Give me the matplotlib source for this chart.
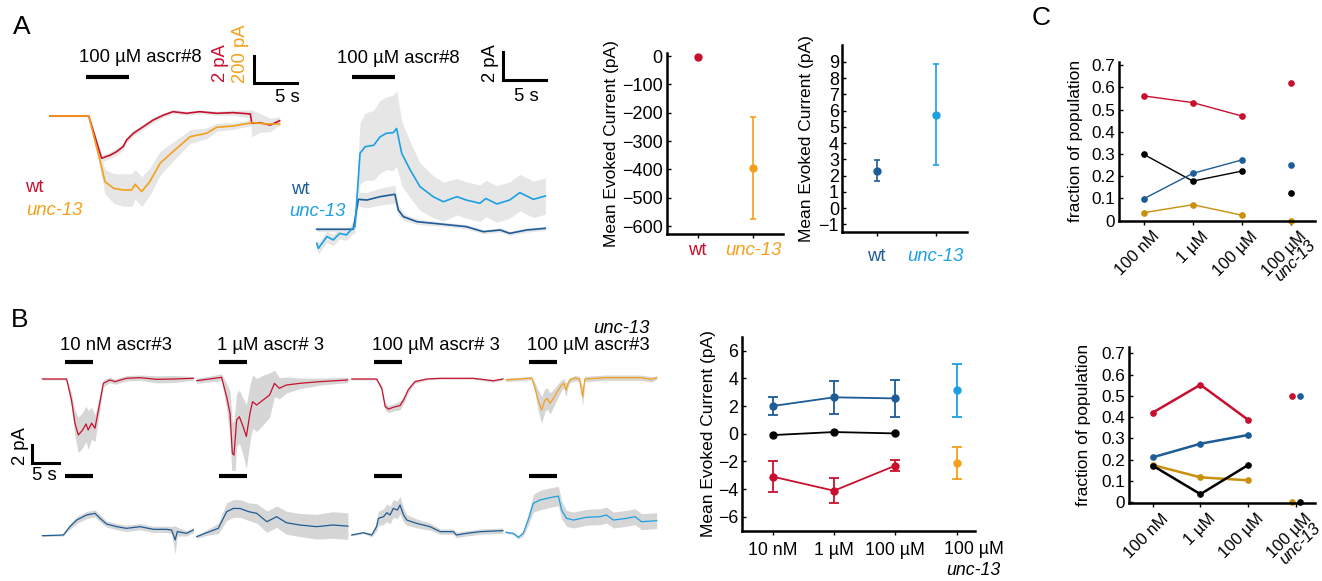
import matplotlib.pyplot as plt
import numpy as np

plt.rcParams['font.family'] = ['Liberation Sans', 'DejaVu Sans']

RED = '#c8102e'
ORANGE = '#f5a01a'
DBLUE = '#1d5c96'
LBLUE = '#1ca0e3'
GOLD = '#c8900c'
BAND_A = '#e6e6e6'
BAND_B = '#d6d6d6'

# ---- A: ascr#8 traces (time in s, current in pA) ----
a1_wt_t = [0, 4.5, 6.0, 7.0, 7.75, 8.5, 8.9, 9.7, 10.85, 12.0, 13.2, 14.3, 15.9, 17.4, 19.4, 21.3, 23.3, 23.45, 24.4, 25.6, 26.7]
a1_wt = [0, 0, -3.13, -2.9, -2.64, -2.27, -1.78, -1.28, -0.79, -0.3, 0.07, 0.32, 0.2, 0.32, 0.2, 0.25, 0.15, -0.54, -0.5, -0.67, -0.35]
a1_wt_sem = [0.05, 0.05, 0.25, 0.25, 0.25, 0.25, 0.2, 0.2, 0.2, 0.2, 0.15, 0.15, 0.15, 0.15, 0.15, 0.2, 0.3, 1.0, 0.7, 0.5, 0.3]
a1_unc_t = [0, 4.5, 5.8, 6.4, 7.4, 8.5, 9.5, 9.9, 10.66, 11.6, 12.8, 14.3, 16.3, 18.2, 19.4, 21.3, 23.6, 25.2, 26.7]
a1_unc = [0, 0, -326, -487, -536, -548, -548, -506, -560, -487, -350, -264, -153, -128, -83, -74, -49, -59, -59]
a1_unc_sem = [5, 5, 60, 90, 110, 120, 120, 110, 110, 100, 90, 70, 50, 40, 30, 25, 20, 15, 15]

a2_wt_t = [0, 4.3, 4.9, 5.9, 7.45, 9.2, 9.6, 10.2, 11.8, 14.5, 17.6, 19.6, 21.6, 22.7, 24.7, 26.9]
a2_wt = [0, 0, 2.14, 2.09, 2.33, 2.5, 1.38, 0.9, 0.54, 0.38, 0.19, -0.17, -0.05, -0.29, -0.05, 0.07]
a2_wt_sem = [0.15, 0.15, 0.5, 0.55, 0.6, 0.65, 0.4, 0.25, 0.2, 0.15, 0.15, 0.15, 0.15, 0.15, 0.15, 0.15]
a2_unc_t = [0, 0.2, 1.2, 1.95, 2.7, 3.5, 4.1, 4.5, 5.1, 5.7, 6.7, 7.45, 8.2, 9.0, 9.4, 10.0, 11.0, 12.15, 13.7, 14.9,
            16.5, 17.6, 19.2, 19.9, 21.2, 22.7, 23.9, 25.5, 26.9]
a2_unc = [-1.0, -1.36, -0.52, -0.76, -0.29, -0.4, 0, 0.2, 5.43, 5.9, 6.0, 6.6, 6.86, 6.9, 7.2, 5.43, 4.24, 3.05, 2.33, 1.97,
          2.33, 2.09, 1.86, 2.2, 1.81, 2.09, 2.62, 2.14, 2.38]
a2_unc_sem = [0.4, 0.4, 0.4, 0.4, 0.4, 0.4, 0.4, 0.5, 2.2, 2.4, 2.5, 2.6, 2.6, 2.7, 2.7, 2.3, 2.0, 1.7, 1.5, 1.4,
              1.3, 1.3, 1.3, 1.3, 1.3, 1.3, 1.3, 1.3, 1.3]

# mean evoked currents (pA)
a_groups = ['wt', 'unc-13']
a_inward = [-3, -395]
a_inward_err = [4, 180]
a_outward = [2.3, 5.75]
a_outward_err = [0.65, 3.1]

# ---- B: ascr#3 traces, inward (top) and outward (bottom) rows ----
b_titles = ['10 nM ascr#3', '1 µM ascr# 3', '100 µM ascr# 3', '100 µM ascr#3']
b_in_t = [
    [0, 4.5, 5.4, 6.05, 6.67, 7.47, 8.1, 8.5, 9.14, 9.75, 10.4, 11.3, 12.5, 13.45, 15.6, 18.1, 21.2, 24.3, 27.96],
    [0, 1.85, 4.6, 5.55, 6.17, 6.6, 6.9, 7.4, 7.9, 8.6, 9.2, 9.86, 10.35, 11.1, 12.3, 13.5, 14.4, 15.3, 16.6, 19.1, 22.8, 27.96],
    [0, 4.6, 5.56, 6.2, 6.8, 7.7, 8.95, 9.6, 10.5, 11.7, 13.9, 16.4, 22.5, 26.2, 28.0],
    [0, 4.75, 5.4, 6.0, 6.6, 7.2, 7.65, 8.15, 8.77, 9.5, 10.3, 10.7, 11.1, 11.5, 11.85, 12.8, 13.6, 14.2, 14.6, 18.6, 24.8, 27, 27.9],
]
b_in = [
    [0, 0, -2.37, -5.0, -6.33, -5.76, -5.08, -5.76, -5.0, -5.57, -3.5, -0.49, -0.11, -0.3, 0.08, 0.15, -0.04, 0, 0.08],
    [-0.19, -0.04, 0.19, -2.0, -3.88, -8.4, -8.6, -4.63, -4.26, -5.39, -6.5, -3.88, -2.56, -2.94, -2.37, -1.81, -0.49, -1.05, -0.68, -0.49, -0.3, -0.11],
    [0, 0, -1.05, -3.1, -3.4, -3.2, -3.0, -2.37, -1.2, -0.3, 0, 0.08, 0.08, -0.2, 0],
    [-0.1, 0.1, -1.05, -2.5, -3.5, -2.4, -2.2, -2.75, -2.2, -1.43, -0.68, -0.5, -1.24, -0.5, -0.1, 0.1, 0, -2.0, 0, 0.15, 0.15, -0.04, 0.15],
]
b_in_sem = [
    [0.1, 0.1, 0.8, 1.5, 2.0, 2.0, 2.0, 2.2, 1.8, 1.5, 1.0, 0.4, 0.3, 0.3, 0.3, 0.3, 0.4, 0.4, 0.2],
    [0.3, 0.3, 0.4, 1.5, 2.5, 3.5, 3.9, 3.0, 3.0, 3.2, 3.6, 3.2, 3.0, 3.0, 2.8, 2.5, 1.5, 1.2, 0.9, 0.6, 0.4, 0.3],
    [0.1, 0.1, 0.3, 0.4, 0.4, 0.4, 0.5, 0.4, 0.3, 0.2, 0.1, 0.1, 0.1, 0.15, 0.1],
    [0.2, 0.2, 0.6, 1.2, 1.5, 1.3, 1.2, 1.2, 1.0, 0.8, 0.6, 0.5, 0.8, 0.4, 0.3, 0.3, 0.3, 1.0, 0.3, 0.3, 0.3, 0.3, 0.2],
]
b_out_t = [
    [0, 3.9, 5.1, 6.4, 8.2, 9.75, 10.7, 11.9, 13.8, 15.6, 18.1, 20.6, 23.0, 23.95, 24.6, 25.0, 26.7, 27.96],
    [0, 1.85, 4.0, 5.55, 6.8, 8.0, 9.6, 11.1, 13.0, 14.8, 16.6, 19.1, 22.2, 25.2, 28.0],
    [0, 2.16, 3.7, 4.6, 4.94, 5.9, 6.5, 7.1, 7.7, 8.46, 8.95, 9.6, 10.2, 12.0, 14.5, 16.4, 18.8, 19.4, 21.3, 23.8, 28.0],
    [0, 1.36, 2.28, 3.2, 4.1, 5.06, 6.3, 8.15, 9.7, 10.3, 11.2, 12.5, 14.9, 17.4, 18.6, 19.9, 22.3, 23.9, 25.1, 27.9],
]
b_out = [
    [-0.08, 0, 0.94, 1.7, 2.26, 2.45, 1.88, 1.24, 0.94, 0.75, 0.94, 0.64, 0.64, 0.56, -0.56, 0.38, 0.19, 0.56],
    [-0.19, 0.26, 0.75, 2.64, 3.0, 3.0, 2.64, 2.45, 1.5, 2.07, 1.39, 1.13, 0.94, 1.13, 1.0],
    [0, 0.26, 0, 0.94, 1.88, 2.07, 2.52, 2.26, 3.0, 2.82, 3.39, 2.26, 1.69, 1.32, 0.94, 0.38, 0.38, 0, 0.19, 0.38, 0.49],
    [0.3, 0.19, -0.26, 0.19, 1.69, 3.58, 3.95, 4.22, 4.4, 2.82, 1.88, 1.69, 2.0, 2.07, 2.26, 1.69, 1.88, 2.07, 1.5, 1.62],
]
b_out_sem = [
    [0.1, 0.1, 0.3, 0.4, 0.4, 0.4, 0.4, 0.35, 0.35, 0.35, 0.35, 0.35, 0.35, 0.4, 1.6, 0.5, 0.3, 0.3],
    [0.2, 0.3, 0.6, 1.0, 1.0, 1.0, 1.0, 1.1, 1.2, 1.2, 1.3, 1.3, 1.4, 1.5, 1.5],
    [0.1, 0.1, 0.2, 0.5, 0.8, 0.9, 1.0, 1.0, 1.0, 1.0, 1.0, 0.8, 0.6, 0.5, 0.4, 0.3, 0.3, 0.3, 0.3, 0.3, 0.3],
    [0.15, 0.15, 0.2, 0.3, 0.6, 1.0, 1.1, 1.1, 1.1, 1.0, 0.9, 0.9, 0.9, 0.9, 0.9, 0.9, 0.9, 0.9, 0.9, 0.9],
]

# B summary: mean evoked current per concentration (last = unc-13 at 100 µM)
b_conc = ['10 nM', '1 µM', '100 µM', '100 µM']
b_out_mean = [2.0, 2.63, 2.55, 3.13]
b_out_err = [0.68, 1.2, 1.35, 1.93]
b_zero_mean = [-0.1, 0.12, 0.02]
b_in_mean = [-3.1, -4.12, -2.31, -2.14]
b_in_err = [1.12, 0.92, 0.4, 1.16]

# ---- C: fraction of population ----
c_conc = ['100 nM', '1 µM', '100 µM', '100 µM']
c8_red = [0.561, 0.531, 0.471, 0.621]
c8_black = [0.298, 0.178, 0.223, 0.126]
c8_blue = [0.099, 0.213, 0.273, 0.249]
c8_gold = [0.036, 0.072, 0.025, 0.0]
c3_red = [0.421, 0.552, 0.387, 0.5]
c3_blue = [0.211, 0.275, 0.316, 0.5]
c3_gold = [0.175, 0.117, 0.103, 0.0]
c3_black = [0.172, 0.038, 0.175, 0.0]

W, H = 1322, 581
fig = plt.figure(figsize=(W / 100, H / 100), dpi=100)


def box(x0, y0, x1, y1):
    return fig.add_axes([x0 / W, 1 - y1 / H, (x1 - x0) / W, (y1 - y0) / H])


def trace_ax(x0, y0, x1, y1, ox, oy, sx, sy):
    # axes in seconds / pA, with t=0,v=0 at pixel (ox, oy)
    ax = box(x0, y0, x1, y1)
    ax.set_xlim((x0 - ox) / sx, (x1 - ox) / sx)
    ax.set_ylim((oy - y1) / sy, (oy - y0) / sy)
    ax.axis('off')
    return ax


def band(ax, t, v, sem, scale=1.0, color=BAND_A):
    t, v, sem = np.asarray(t), np.asarray(v) / scale, np.asarray(sem) / scale
    ax.fill_between(t, v - sem, v + sem, color=color, lw=0)


def line(ax, t, v, color, scale=1.0, lw=1.0):
    ax.plot(t, np.asarray(v) / scale, color=color, lw=lw)


def hbar(ax, t0, t1, y, lw=3):
    ax.plot([t0, t1], [y, y], color='k', lw=lw, solid_capstyle='butt', clip_on=False)


def scalebar(ax, t, v, dt, dv):
    ax.plot([t, t, t + dt], [v + dv, v, v], color='k', lw=2.2, clip_on=False,
            solid_joinstyle='miter')


def ftext(x, y, s, **kw):
    fig.text(x / W, 1 - y / H, s, **kw)


TICK = 12.8


def style(ax, lw=1.8):
    for s in ['top', 'right']:
        ax.spines[s].set_visible(False)
    for s in ['left', 'bottom']:
        ax.spines[s].set_linewidth(lw)
    ax.tick_params(axis='y', direction='in', length=3, width=1, labelsize=TICK, pad=3)
    ax.tick_params(axis='x', direction='out', length=3, width=1, labelsize=TICK)


FS = 13.3
YL = 12.5

# ---------------- A traces ----------------
ax = trace_ax(40, 20, 305, 235, ox=50, oy=116, sx=8.6, sy=13.5)
band(ax, a1_unc_t, a1_unc, a1_unc_sem, scale=100)
band(ax, a1_wt_t, a1_wt, a1_wt_sem)
line(ax, a1_wt_t, a1_wt, RED, lw=1.2)
line(ax, a1_unc_t, a1_unc, ORANGE, scale=100, lw=1.2)
hbar(ax, 4.2, 9.2, 2.9)
ax.text(3.4, 4.3, '100 µM ascr#8', fontsize=FS, ha='left', va='center')
scalebar(ax, 23.7, 2.44, 5, 2)
ax.text(27.6, 1.4, '5 s', fontsize=FS, ha='center', va='center')
ax.text(19.8, 3.9, '2 pA', fontsize=FS, color=RED, rotation=90, ha='center', va='center')
ax.text(22.2, 4.6, '200 pA', fontsize=FS, color=ORANGE, rotation=90, ha='center', va='center')
ftext(25, 187, 'wt', fontsize=FS, color=RED, va='center')
ftext(26, 210, 'unc-13', fontsize=FS, color=ORANGE, style='italic', va='center')

ax = trace_ax(300, 30, 560, 260, ox=316.7, oy=229.3, sx=8.5, sy=14)
band(ax, a2_unc_t, a2_unc, a2_unc_sem)
band(ax, a2_wt_t, a2_wt, a2_wt_sem)
line(ax, a2_wt_t, a2_wt, DBLUE, lw=1.2)
line(ax, a2_unc_t, a2_unc, LBLUE, lw=1.2)
hbar(ax, 4.2, 9.2, 10.9)
ax.text(2.4, 12.2, '100 µM ascr#8', fontsize=FS, ha='left', va='center')
scalebar(ax, 21.95, 10.66, 5, 2)
ax.text(24.7, 9.47, '5 s', fontsize=FS, ha='center', va='center')
ax.text(20.4, 11.9, '2 pA', fontsize=FS, rotation=90, ha='center', va='center')
ftext(291, 189, 'wt', fontsize=FS, color=DBLUE, va='center')
ftext(289, 211, 'unc-13', fontsize=FS, color=LBLUE, style='italic', va='center')

# ---------------- A summaries ----------------
ax = box(666.7, 52.7, 783.3, 234)
style(ax)
for i, c in enumerate([RED, ORANGE]):
    ax.errorbar(i + 1, a_inward[i], yerr=a_inward_err[i], fmt='o', color=c, ms=5,
                capsize=2.5, elinewidth=1.2, capthick=1.2)
ax.set_xlim(0.44, 2.55)
ax.set_ylim(-628, 12)
ax.set_yticks(np.arange(-600, 1, 100))
ax.set_xticks([1, 2])
ax.set_xticklabels(a_groups)
ax.tick_params(axis='x', pad=2.5, labelsize=FS)
ax.tick_params(axis='y', labelsize=13)
labs = ax.get_xticklabels()
labs[0].set_color(RED)
labs[1].set_color(ORANGE)
labs[1].set_style('italic')
ax.set_ylabel('Mean Evoked Current (pA)', fontsize=YL, labelpad=2)

ax = box(841.7, 45, 966.7, 231.7)
style(ax)
for i, c in enumerate([DBLUE, LBLUE]):
    ax.errorbar(i + 1, a_outward[i], yerr=a_outward_err[i], fmt='o', color=c, ms=5,
                capsize=2.5, elinewidth=1.2, capthick=1.2)
ax.set_xlim(0.41, 2.525)
ax.set_ylim(-1.45, 10.03)
ax.set_yticks(np.arange(-1, 10, 1))
ax.set_xticks([1, 2])
ax.set_xticklabels(a_groups)
ax.tick_params(axis='x', pad=8.5, labelsize=FS)
ax.tick_params(axis='y', labelsize=13, pad=2)
labs = ax.get_xticklabels()
labs[0].set_color(DBLUE)
labs[1].set_color(LBLUE)
labs[1].set_style('italic')
ax.set_ylabel('Mean Evoked Current (pA)', fontsize=YL, labelpad=3)

# ---------------- B traces ----------------
col_x = [42.3, 196.7, 351.7, 506]
title_t = [3.3, 3.8, 3.75, 3.9]
for i, x0 in enumerate(col_x):
    unc = i == 3
    top = trace_ax(x0 - 20, 320, x0 + 160, 470, ox=x0, oy=379, sx=5.4, sy=8.85)
    band(top, b_in_t[i], b_in[i], b_in_sem[i], color=BAND_B)
    line(top, b_in_t[i], b_in[i], ORANGE if unc else RED, lw=0.9)
    hbar(top, 4.2, 9.4, 1.92)
    top.text(title_t[i], 3.73, b_titles[i], fontsize=FS, ha='left', va='center')
    if unc:
        top.text(26.5, 5.76, 'unc-13', fontsize=FS, style='italic', ha='right', va='center')
    if i == 0:
        scalebar(top, -1.85, -9.46, 5, 2)
        top.text(-4.0, -7.6, '2 pA', fontsize=FS, rotation=90, ha='center', va='center')
        top.text(0.3, -10.96, '5 s', fontsize=FS, ha='center', va='center')

    bot = trace_ax(x0 - 20, 470, x0 + 160, 581, ox=x0, oy=535, sx=5.4, sy=8.85)
    band(bot, b_out_t[i], b_out[i], b_out_sem[i], color=BAND_B)
    line(bot, b_out_t[i], b_out[i], LBLUE if unc else DBLUE, lw=0.9)
    hbar(bot, 4.2, 9.4, 6.67)

# ---------------- B summary ----------------
ax = box(742.3, 336.7, 975, 530.7)
style(ax)
x3 = np.arange(1, 4)
ax.errorbar(x3, b_out_mean[:3], yerr=b_out_err[:3], fmt='-o', color=DBLUE, ms=5,
            capsize=3.5, lw=1.3, capthick=1.3)
ax.errorbar(4, b_out_mean[3], yerr=b_out_err[3], fmt='o', color=LBLUE, ms=5,
            capsize=3.5, lw=1.3, capthick=1.3)
ax.plot(x3, b_zero_mean, '-o', color='k', ms=5, lw=1.3)
ax.errorbar(x3, b_in_mean[:3], yerr=b_in_err[:3], fmt='-o', color=RED, ms=5,
            capsize=3.5, lw=1.3, capthick=1.3)
ax.errorbar(4, b_in_mean[3], yerr=b_in_err[3], fmt='o', color=ORANGE, ms=5,
            capsize=3.5, lw=1.3, capthick=1.3)
ax.set_xlim(0.506, 4.3)
ax.set_ylim(-7.01, 7.01)
ax.set_yticks(np.arange(-6, 7, 2))
ax.set_xticks([1, 2, 3, 4])
ax.set_xticklabels(b_conc[:3] + [''])
ax.tick_params(axis='x', pad=5)
ax.annotate(b_conc[3], xy=(4.28, 0), xycoords=('data', 'axes fraction'), xytext=(0, -13.4),
            textcoords='offset points', ha='center', va='center', fontsize=TICK)
ax.annotate('unc-13', xy=(4.28, 0), xycoords=('data', 'axes fraction'), xytext=(0, -28.3),
            textcoords='offset points', ha='center', va='center', fontsize=TICK, style='italic')
ax.set_ylabel('Mean Evoked Current (pA)', fontsize=YL, labelpad=1)


# ---------------- C ----------------
def frac_axes(x0, y0, x1, y1, xlim, ylim, lw, series, pad):
    ax = box(x0, y0, x1, y1)
    style(ax)
    ax.tick_params(axis='y', labelsize=12.3)
    for vals, c, dx in series:
        ax.plot([1, 2, 3], vals[:3], '-o', color=c, ms=3.8, lw=lw)
        ax.plot(4 + dx, vals[3], 'o', color=c, ms=3.8, clip_on=False)
    ax.set_xlim(*xlim)
    ax.set_ylim(*ylim)
    ax.set_yticks(np.arange(0, 0.71, 0.1))
    ax.set_yticklabels(['0'] + ['%.1f' % v for v in np.arange(0.1, 0.71, 0.1)])
    ax.set_xticks([1, 2, 3, 4])
    ax.set_xticklabels([])
    for k, lab in enumerate(c_conc):
        ax.annotate(lab, xy=(k + 1, 0), xycoords=('data', 'axes fraction'), xytext=(9.5, -9.5),
                    textcoords='offset points', rotation=45, ha='right', va='center',
                    rotation_mode='anchor', fontsize=12)
    ax.annotate('unc-13', xy=(4, 0), xycoords=('data', 'axes fraction'), xytext=(16, -16),
                textcoords='offset points', rotation=45, ha='right', va='center',
                rotation_mode='anchor', fontsize=12, style='italic')
    ax.set_ylabel('fraction of population', fontsize=12.5, labelpad=pad)
    return ax


frac_axes(1119, 61.7, 1315, 220.7, (0.49, 4.5), (0, 0.715), 1.0,
          [(c8_red, RED, 0), (c8_black, 'k', 0), (c8_blue, DBLUE, 0), (c8_gold, GOLD, 0)], 6)
frac_axes(1129.3, 347.3, 1315, 503.3, (0.51, 4.4), (-0.005, 0.728), 1.8,
          [(c3_red, RED, -0.08), (c3_blue, DBLUE, 0.08), (c3_gold, GOLD, -0.08), (c3_black, 'k', 0.08)], 7.5)

# panel letters
ftext(22, 27, 'A', fontsize=19, ha='center', va='center')
ftext(20, 320, 'B', fontsize=19, ha='center', va='center')
ftext(1041, 18, 'C', fontsize=19, ha='center', va='center')

fig.savefig('out.png', dpi=100)
